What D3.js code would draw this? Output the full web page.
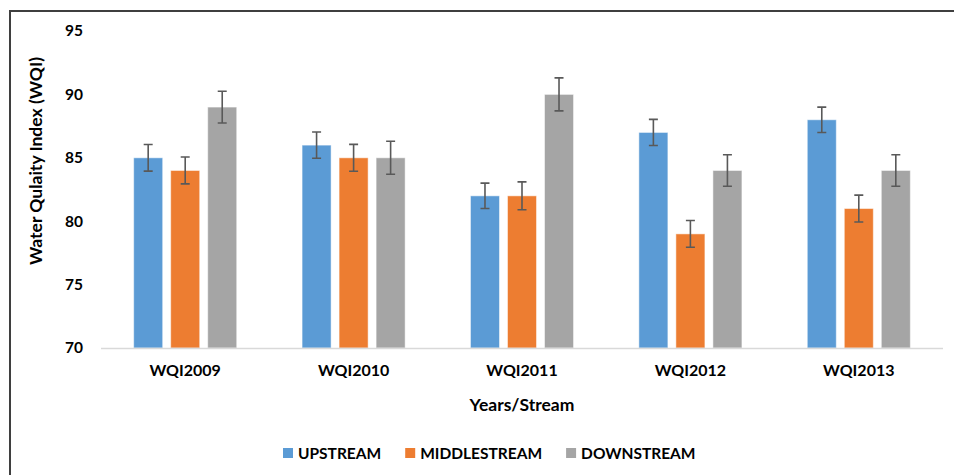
<!DOCTYPE html>
<html>
<head>
<meta charset="utf-8">
<script src="https://cdn.jsdelivr.net/npm/d3@7"></script>
<style>
  html, body { margin: 0; padding: 0; background: #fff; }
  svg { display: block; font-family: Lato, "Open Sans", sans-serif; font-weight: bold; }
</style>
</head>
<body>
<svg id="chart" width="954" height="475"></svg>
<script>
const categories = ['WQI2009', 'WQI2010', 'WQI2011', 'WQI2012', 'WQI2013'];
const seriesNames = ['UPSTREAM', 'MIDDLESTREAM', 'DOWNSTREAM'];
const upstream = [85, 86, 82, 87, 88];
const middlestream = [84, 85, 82, 79, 81];
const downstream = [89, 85, 90, 84, 84];
const upstreamErr = [1.05, 1.03, 1.0, 1.03, 1.0];
const middlestreamErr = [1.06, 1.06, 1.1, 1.05, 1.06];
const downstreamErr = [1.25, 1.3, 1.3, 1.24, 1.24];
const yTicks = [70, 75, 80, 85, 90, 95];

const colors = ['#5B9BD5', '#ED7D31', '#A5A5A5'];
const values = [upstream, middlestream, downstream];
const errors = [upstreamErr, middlestreamErr, downstreamErr];

const svg = d3.select('#chart');
const plot = { left: 101, right: 943, top: 31, bottom: 348 };

// outer frame (top and left edges only visible)
svg.append('path')
  .attr('d', 'M10,475 V11 H954')
  .attr('fill', 'none')
  .attr('stroke', '#3f3f3f')
  .attr('stroke-width', 2);

const x0 = d3.scaleBand().domain(categories).range([plot.left, plot.right]);
const bw = x0.bandwidth();
const x1 = d3.scaleBand().domain(seriesNames)
  .range([bw * 0.194, bw * 0.806])
  .paddingInner(0.216);
const y = d3.scaleLinear().domain([70, 95]).range([plot.bottom, plot.top]);

// y tick labels
svg.append('g').selectAll('text')
  .data(yTicks)
  .join('text')
  .attr('x', 83)
  .attr('y', (d) => y(d))
  .attr('dy', '0.35em')
  .attr('text-anchor', 'end')
  .attr('font-size', 15.5)
  .attr('fill', '#000')
  .text((d) => d);

// bars
const rows = [];
categories.forEach((c, i) => {
  seriesNames.forEach((s, j) => {
    rows.push({ cat: c, series: s, j, value: values[j][i], err: errors[j][i] });
  });
});

svg.append('g').selectAll('rect')
  .data(rows)
  .join('rect')
  .attr('x', (d) => x0(d.cat) + x1(d.series))
  .attr('y', (d) => y(d.value))
  .attr('width', x1.bandwidth())
  .attr('height', (d) => y(70) - y(d.value))
  .attr('fill', (d) => colors[d.j])
  .attr('stroke', '#ffffff')
  .attr('stroke-opacity', 0.5)
  .attr('stroke-width', 1);

// x axis line
svg.append('line')
  .attr('x1', plot.left).attr('x2', plot.right)
  .attr('y1', y(70) + 0.5).attr('y2', y(70) + 0.5)
  .attr('stroke', '#D9D9D9')
  .attr('stroke-width', 1.5);

// error bars
const eb = svg.append('g')
  .attr('stroke', '#595959')
  .attr('stroke-width', 1.6)
  .attr('fill', 'none');
const cx = (d) => x0(d.cat) + x1(d.series) + x1.bandwidth() / 2;
eb.selectAll('path')
  .data(rows)
  .join('path')
  .attr('d', (d) => {
    const c = cx(d), t = y(d.value + d.err), b = y(d.value - d.err);
    return `M${c},${t}V${b}M${c - 4.5},${t}H${c + 4.5}M${c - 4.5},${b}H${c + 4.5}`;
  });

// x labels
svg.append('g').selectAll('text')
  .data(categories)
  .join('text')
  .attr('x', (d) => x0(d) + bw / 2)
  .attr('y', 376)
  .attr('text-anchor', 'middle')
  .attr('font-size', 16)
  .attr('fill', '#000')
  .text((d) => d);

// axis titles
svg.append('text')
  .attr('x', 522)
  .attr('y', 411)
  .attr('text-anchor', 'middle')
  .attr('font-size', 17.5)
  .attr('fill', '#000')
  .text('Years/Stream');

svg.append('text')
  .attr('transform', 'translate(42,161) rotate(-90)')
  .attr('text-anchor', 'middle')
  .attr('font-size', 17.5)
  .attr('fill', '#000')
  .text('Water Qulaity Index (WQI)');

// legend
const legend = svg.append('g');
let lx = 283;
seriesNames.forEach((s, j) => {
  legend.append('rect')
    .attr('x', lx).attr('y', 448)
    .attr('width', 10).attr('height', 10)
    .attr('fill', colors[j]);
  const t = legend.append('text')
    .attr('x', lx + 15).attr('y', 458.5)
    .attr('font-size', 15.5)
    .attr('fill', '#000')
    .text(s);
  lx += 15 + t.node().getComputedTextLength() + 24;
});
</script>
</body>
</html>
